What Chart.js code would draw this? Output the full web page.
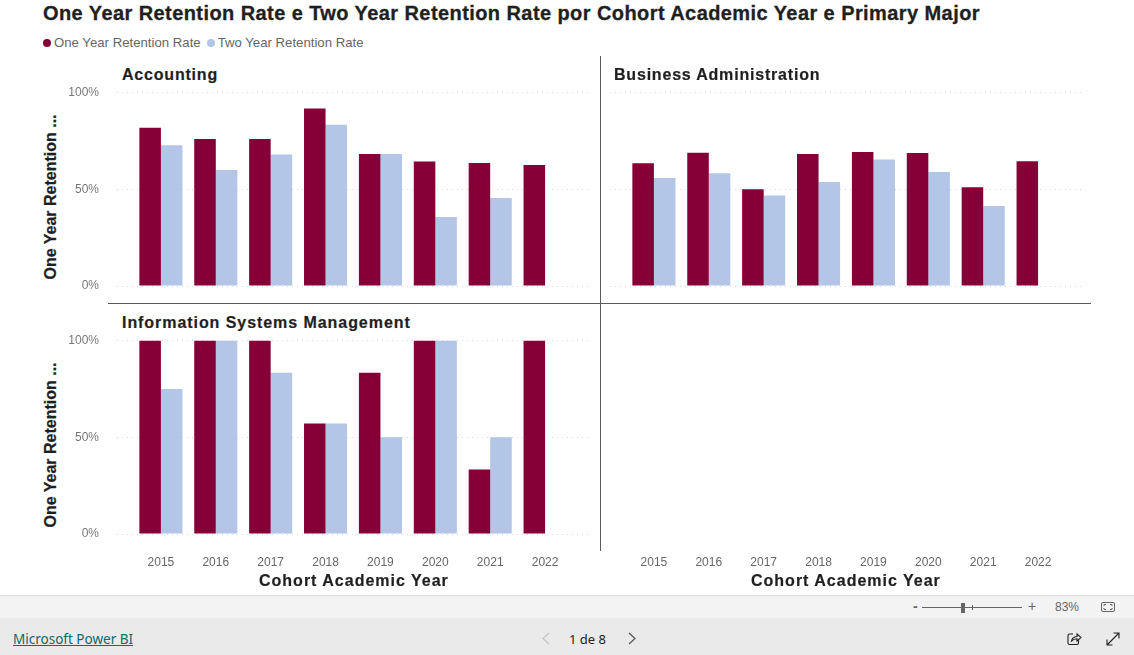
<!DOCTYPE html>
<html>
<head>
<meta charset="utf-8">
<script src="https://cdn.jsdelivr.net/npm/chart.js@4"></script>
<style>
  html, body { margin: 0; padding: 0; background: #fff; }
  body { width: 1134px; height: 655px; position: relative; overflow: hidden; font-family: "Liberation Sans", Arial, sans-serif; }
  .abs { position: absolute; white-space: nowrap; }
  canvas { position: absolute; }
  #title { left: 43px; top: 2px; font-size: 20px; font-weight: bold; letter-spacing: 0.42px; color: #1f1f1f; -webkit-text-stroke: 0.3px #1f1f1f; }
  #legend { left: 43px; top: 35px; font-size: 13.2px; color: #666; }
  #legend i { display: inline-block; width: 8px; height: 8px; border-radius: 50%; margin-right: 3px; }
  #legend span { margin-right: 6px; }
  .panel { font-size: 16px; font-weight: bold; letter-spacing: 0.8px; color: #1f1f1f; -webkit-text-stroke: 0.2px #1f1f1f; }
  .xt { font-size: 16px; font-weight: bold; letter-spacing: 1px; color: #1f1f1f; -webkit-text-stroke: 0.2px #1f1f1f; }
  .yt { font-size: 16px; font-weight: bold; letter-spacing: 0; color: #1f1f1f; -webkit-text-stroke: 0.2px #1f1f1f; transform: translate(-50%, -50%) rotate(-90deg); }
  .sep { position: absolute; background: #5a5a5a; }
  #bar1 { position: absolute; left: 0; top: 595px; width: 1134px; height: 22px; background: #f3f3f3; border-top: 1px solid #dcdcdc; border-bottom: 1px solid #c8c8c8; }
  #bar2 { position: absolute; left: 0; top: 618px; width: 1134px; height: 37px; background: #eaeaea; }
  #pbi { left: 13px; top: 630px; font: 13.5px "Noto Sans", sans-serif; color: #10696b; text-decoration: underline; }
  #page { left: 569px; top: 630px; font: 13px "Noto Sans", sans-serif; color: #222; }
  #pct { left: 1055px; top: 600px; font-size: 12px; color: #666; }
  svg { position: absolute; }
</style>
</head>
<body>
<div id="title" class="abs">One Year Retention Rate e Two Year Retention Rate por Cohort Academic Year e Primary Major</div>
<div id="legend" class="abs"></div>

<div class="sep" style="left:600px;top:56px;width:1px;height:495px"></div>
<div class="sep" style="left:108px;top:303px;width:983px;height:1px"></div>

<div id="charts"></div>

<div class="abs panel" style="left:122px;top:66px">Accounting</div>
<div class="abs panel" style="left:614px;top:66px">Business Administration</div>
<div class="abs panel" style="left:122px;top:314px;letter-spacing:0.94px">Information Systems Management</div>

<div class="abs yt" style="left:51px;top:197px">One Year Retention ...</div>
<div class="abs yt" style="left:51px;top:445px">One Year Retention ...</div>
<div class="abs xt" style="left:259px;top:572px">Cohort Academic Year</div>
<div class="abs xt" style="left:751px;top:572px">Cohort Academic Year</div>

<div id="bar1"></div>
<div id="bar2"></div>
<div class="abs" style="left:913px;top:598px;font-size:14px;font-weight:bold;color:#666">-</div>
<div class="abs" style="left:922px;top:607px;width:100px;height:1px;background:#666"></div>
<div class="abs" style="left:961px;top:603px;width:4px;height:10px;background:#666"></div>
<div class="abs" style="left:972px;top:605px;width:1px;height:5px;background:#666"></div>
<div class="abs" style="left:1028px;top:598px;font-size:14px;color:#666">+</div>
<div id="pct" class="abs">83%</div>
<svg style="left:1101px;top:602px" width="15" height="11" fill="none" stroke="#666"><rect x="0.5" y="0.5" width="13" height="9" rx="1.5"/><path d="M3 4V2.5H5M9 2.5H11V4M11 6V7.5H9M5 7.5H3V6"/></svg>
<a id="pbi" class="abs">Microsoft Power BI</a>
<svg style="left:541px;top:632px" width="10" height="13" fill="none" stroke="#c4c4c4" stroke-width="1.2"><path d="M8 1L2 6.5L8 12"/></svg>
<div id="page" class="abs">1 de 8</div>
<svg style="left:627px;top:632px" width="10" height="13" fill="none" stroke="#555" stroke-width="1.2"><path d="M2 1L8 6.5L2 12"/></svg>
<svg style="left:1067px;top:631px" width="15" height="15" fill="none" stroke="#222" stroke-width="1.1"><path d="M6 3H2.5Q1 3 1 4.5V12Q1 13.5 2.5 13.5H10Q11.5 13.5 11.5 12V9M4.5 10Q5 6 10 5.5V3L14 6.5L10 10V7.8Q6.5 8 4.5 10Z"/></svg>
<svg style="left:1106px;top:632px" width="14" height="14" fill="none" stroke="#222" stroke-width="1.1"><path d="M1 13L13 1M7.5 1H13V6.5M1 7.5V13H6.5"/></svg>

<script>
const years = [2015, 2016, 2017, 2018, 2019, 2020, 2021, 2022];
const yTicks = [0, 50, 100];
const seriesNames = ["One Year Retention Rate", "Two Year Retention Rate"];
const seriesColors = ["#860038", "#b3c6e7"];

const accountingOne = [81.8, 76, 76, 91.7, 68.2, 64.3, 63.6, 62.5];
const accountingTwo = [72.7, 60, 68, 83.3, 68.2, 35.7, 45.5, null];
const businessOne = [63.5, 68.8, 50, 68.2, 69.2, 68.7, 51, 64.5];
const businessTwo = [55.8, 58.3, 46.8, 53.7, 65.4, 58.9, 41.4, null];
const infoOne = [100, 100, 100, 57.1, 83.3, 100, 33.3, 100];
const infoTwo = [75, 100, 83.3, 57.1, 50, 100, 50, null];

// legend above the panels
const legendBox = document.getElementById("legend");
seriesNames.forEach((name, i) => {
  const item = document.createElement("span");
  item.innerHTML = `<i style="background:${seriesColors[i]}"></i>${name}`;
  legendBox.appendChild(item);
});

function toPoints(values) {
  return values.map((v, i) => ({ x: years[i], y: v }));
}

// one small multiple; every panel uses the same plot size so they line up
function makePanel(left, top, height, one, two, opts) {
  const canvas = document.createElement("canvas");
  canvas.style.left = left + "px";
  canvas.style.top = top + "px";
  canvas.style.width = "535px";
  canvas.style.height = height + "px";
  canvas.width = 535;
  canvas.height = height;
  document.getElementById("charts").appendChild(canvas);

  new Chart(canvas.getContext("2d"), {
    type: "bar",
    data: {
      datasets: [
        { label: seriesNames[0], data: toPoints(one), backgroundColor: seriesColors[0] },
        { label: seriesNames[1], data: toPoints(two), backgroundColor: seriesColors[1] }
      ]
    },
    options: {
      responsive: false,
      animation: false,
      datasets: { bar: { barPercentage: 1, categoryPercentage: 0.785 } },
      layout: { autoPadding: false, padding: { top: 8.5, right: 6, bottom: opts.showYears ? 0 : 14, left: 0 } },
      plugins: { legend: { display: false }, tooltip: { enabled: false } },
      scales: {
        x: {
          type: "linear",
          min: 2014.2,
          max: 2022.8,
          offset: false,
          display: opts.showYears,
          grid: { display: false },
          border: { display: false },
          afterFit: scale => {
            scale.height = opts.showYears ? 40 : 0;
            scale.paddingLeft = scale.paddingRight = 0;
          },
          ticks: {
            stepSize: 1,
            includeBounds: false,
            autoSkip: false,
            maxRotation: 0,
            padding: 13,
            color: "#666",
            font: { family: "Liberation Sans", size: 12 },
            callback: v => String(v)
          }
        },
        y: {
          min: 0,
          max: 100,
          display: true,
          afterFit: scale => {
            scale.width = 57;
            scale.paddingTop = scale.paddingBottom = 0;
          },
          afterBuildTicks: scale => { scale.ticks = yTicks.map(v => ({ value: v })); },
          grid: { display: opts.showGrid, color: "#d9d9d9", lineWidth: 1, drawTicks: false },
          border: { display: false, dash: [1, 4] },
          ticks: {
            display: opts.showPercent,
            padding: 18,
            color: "#777",
            font: { family: "Liberation Sans", size: 12 },
            callback: v => v + "%"
          }
        }
      }
    }
  });
}

makePanel(60, 84, 216, accountingOne, accountingTwo, { showYears: false, showPercent: true, showGrid: true });
makePanel(553, 84, 216, businessOne, businessTwo, { showYears: false, showPercent: false, showGrid: true });
makePanel(60, 332, 242, infoOne, infoTwo, { showYears: true, showPercent: true, showGrid: true });
makePanel(553, 332, 242, [], [], { showYears: true, showPercent: false, showGrid: false });
</script>
</body>
</html>
